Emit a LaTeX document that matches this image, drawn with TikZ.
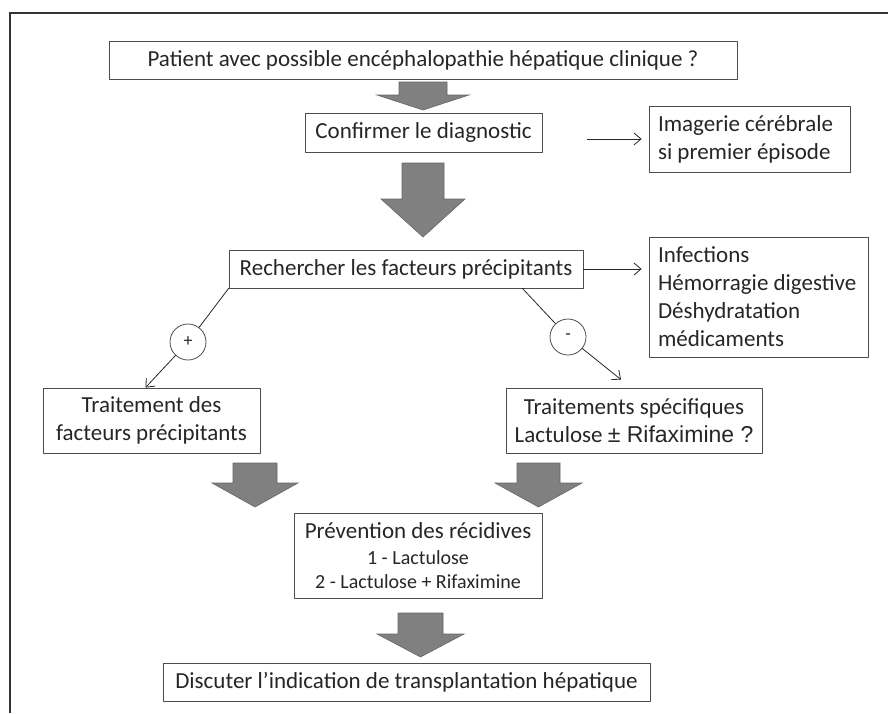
\documentclass[tikz,border=0pt]{standalone}
\usepackage{fontspec}
\setmainfont{Carlito}
\newfontfamily\arialfont{Liberation Sans}
\usepackage{tikz}
\usetikzlibrary{arrows.meta}

\newcommand{\grosfleche}[6]{% x, haut, debut pointe, bout, demi tige, demi pointe
  \draw[fleche] (#1-#5,#2) -- (#1+#5,#2) -- (#1+#5,#3) -- (#1+#6,#3) -- (#1,#4) -- (#1-#6,#3) -- (#1-#5,#3) -- cycle;}

\begin{document}
\begin{tikzpicture}[x=1pt,y=-1pt,line cap=round,line join=round,>={Straight Barb[length=7pt,width=12pt]},
  box/.style={draw=black!70,line width=0.8pt,text=black!85,inner sep=0pt,font=\fontsize{23}{28}\selectfont,align=center},
  leftbox/.style={box,align=flush left,inner xsep=9pt},
  signe/.style={draw=black!70,line width=0.8pt,circle,minimum size=36pt,inner sep=0pt,text=black!85,font=\fontsize{18}{18}\selectfont},
  fleche/.style={fill=black!50,draw=black!60,line width=0.6pt,line join=miter},
  lien/.style={draw=black!85,line width=0.8pt}]
 	\useasboundingbox (0,0) rectangle (888,713);
 	\draw[line width=1.6pt,black!80,line cap=butt,line join=miter] (10,713) -- (10,13) -- (888,13);
 	\node[box,minimum width=628pt,minimum height=38pt] (patient) at (423,60) {Patient avec possible encéphalopathie hépatique clinique ?};
 	\node[box,minimum width=237pt,minimum height=39pt] (confirm) at (423.5,132.5) {Confirmer le diagnostic};
 	\node[leftbox,text width=183pt,minimum height=66pt] (imag) at (749.5,139) {Imagerie cérébrale\\si premier épisode};
 	\node[box,minimum width=354pt,minimum height=38pt] (rech) at (406,269) {Rechercher les facteurs précipitants};
 	\node[leftbox,text width=201pt,minimum height=120pt] (infect) at (758.5,297) {Infections\\Hémorragie digestive\\Déshydratation\\médicaments};
 	\node[signe] (plus) at (188,342) {+};
 	\node[signe] (moins) at (568,337) {-};
 	\node[box,minimum width=217pt,minimum height=65pt] (trfact) at (151.5,420.5) {Traitement des\\facteurs précipitants};
 	\node[box,minimum width=256pt,minimum height=65pt] (trspec) at (634,420.5) {Traitements spécifiques\\Lactulose {\arialfont\fontsize{23}{28}\selectfont ± Rifaximine ?}};
 	\node[box,minimum width=248pt,minimum height=85pt] (prev) at (418,555.5) {Prévention des récidives\\[-2pt]{\fontsize{20}{24}\selectfont 1 - Lactulose}\\[-4pt]{\fontsize{20}{24}\selectfont 2 - Lactulose + Rifaximine}};
 	\node[box,minimum width=487pt,minimum height=38pt] (discut) at (406.5,682) {Discuter l’indication de transplantation hépatique};
 	\coordinate (dep1) at ([xshift=45pt]confirm.east);
 	\coordinate (dep2) at ([xshift=-61pt]rech.south east);
 	\draw[lien,->,shorten >=7pt] (dep1 |- imag.west) -- (imag.west);
 	\draw[lien,->,shorten >=7pt] (rech.east) -- (rech.east -| infect.west);
 	\draw[lien] (rech.south west) -- (plus);
 	\draw[lien,->] (plus) -- ([xshift=-6pt]trfact.north);
 	\draw[lien] (dep2) -- (moins);
 	\draw[lien,->] (moins) -- ([xshift=-13pt,yshift=8pt]trspec.north);
 	\grosfleche{423}{82}{95}{110}{24}{46}
 	\grosfleche{423}{163}{199}{237}{21}{42}
 	\grosfleche{255}{463}{483}{507}{22}{43}
 	\grosfleche{538.5}{463}{483}{507}{21.5}{43.5}
 	\grosfleche{420.5}{613}{634}{657}{22.5}{43.5}
\end{tikzpicture}
\end{document}
